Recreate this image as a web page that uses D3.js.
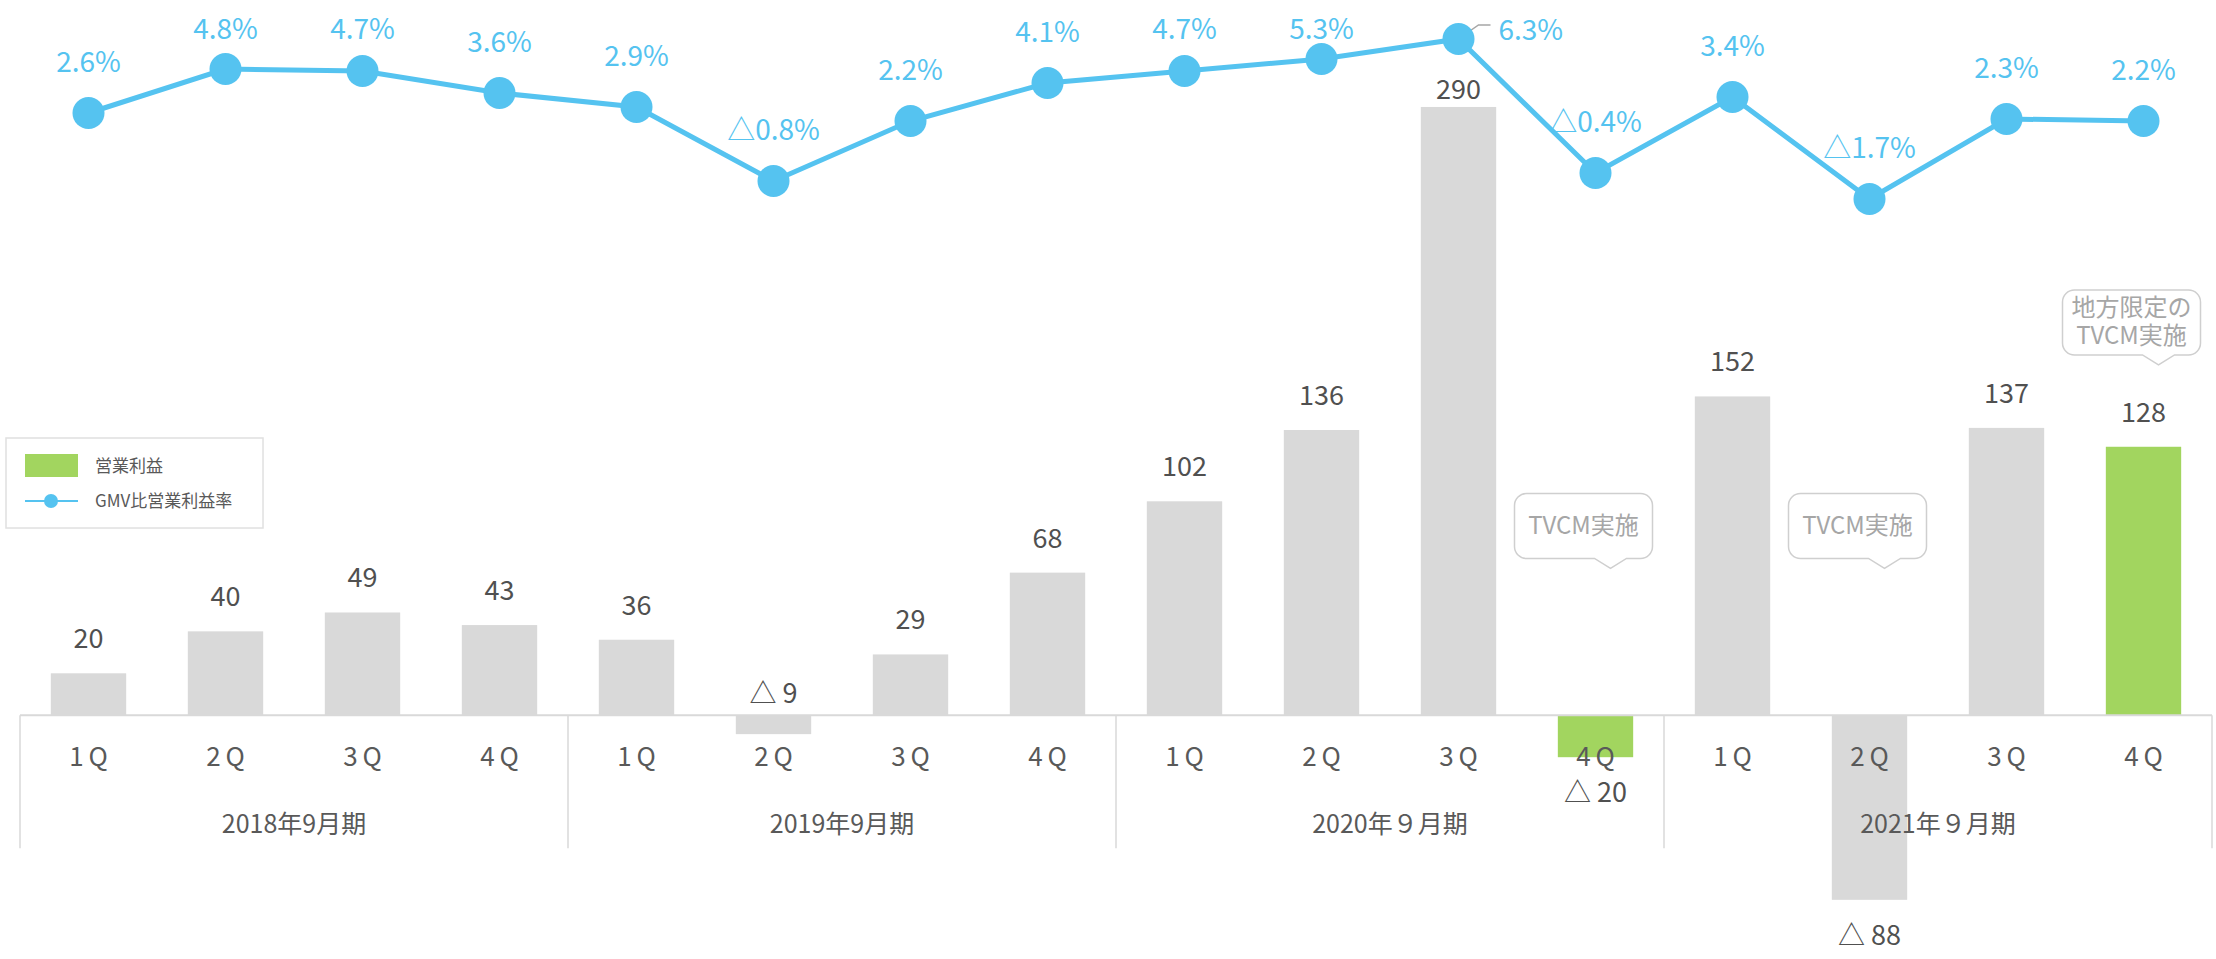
<!DOCTYPE html>
<html>
<head>
<meta charset="utf-8">
<script src="https://cdn.jsdelivr.net/npm/d3@7"></script>
<style>
  body { margin: 0; background: #fff; }
  svg { display: block; font-family: "Noto Sans CJK JP", "Noto Sans", sans-serif; }
</style>
</head>
<body>
<div id="chart"></div>
<script>
// 営業利益 (bars) and GMV比営業利益率 (line), by quarter

const years = ["2018年9月期", "2019年9月期", "2020年９月期", "2021年９月期"];
const quarters = ["1Q", "2Q", "3Q", "4Q"];
const profit = [20, 40, 49, 43, 36, -9, 29, 68, 102, 136, 290, -20, 152, -88, 137, 128];
const margin = [2.6, 4.8, 4.7, 3.6, 2.9, -0.8, 2.2, 4.1, 4.7, 5.3, 6.3, -0.4, 3.4, -1.7, 2.3, 2.2];
const highlight = [11, 15]; // green bars
const calloutAt = [11, 13, 15];
const calloutText = [["TVCM実施"], ["TVCM実施"], ["地方限定の", "TVCM実施"]];
const legendLabels = ["営業利益", "GMV比営業利益率"];

const width = 2216,
  height = 959,
  blue = "#55C3F0",
  green = "#A2D55F",
  gray = "#D9D9D9",
  textGray = "#505050";

const keys = years.flatMap(y => quarters.map(q => y + "-" + q));

const x = d3.scaleBand().domain(keys).range([20, 2212]).paddingInner(0.45).paddingOuter(0.225);
const y = d3.scaleLinear().domain([-100, 300]).range([925, 86]);
const yr = d3.scaleLinear().domain([-2, 7]).range([205, 25]);
const cx = i => x(keys[i]) + x.bandwidth() / 2;

const svg = d3.select("#chart")
  .append("svg")
  .attr("width", width)
  .attr("height", height)
  .attr("viewBox", [0, 0, width, height]);

// bars
svg.append("g")
  .selectAll("rect")
  .data(profit)
  .join("rect")
  .attr("x", (d, i) => x(keys[i]))
  .attr("width", x.bandwidth())
  .attr("y", d => y(Math.max(0, d)))
  .attr("height", d => Math.abs(y(d) - y(0)))
  .attr("fill", (d, i) => highlight.includes(i) ? green : gray);

// axis: baseline + group dividers
const step = x.step(), pad = step * x.paddingInner() / 2;
svg.append("line")
  .attr("x1", 20).attr("x2", 2212)
  .attr("y1", y(0)).attr("y2", y(0))
  .attr("stroke", gray).attr("stroke-width", 2);

const dividers = years.map((yy, k) => x(keys[k * 4]) - pad).concat([x(keys[keys.length - 1]) + x.bandwidth() + pad]);
svg.append("g")
  .selectAll("line")
  .data(dividers)
  .join("line")
  .attr("x1", d => d).attr("x2", d => d)
  .attr("y1", y(0)).attr("y2", y(0) + 133)
  .attr("stroke", gray).attr("stroke-width", 1.5);

svg.append("g")
  .attr("font-size", 26)
  .attr("fill", "#595959")
  .attr("text-anchor", "middle")
  .attr("letter-spacing", 5)
  .selectAll("text")
  .data(keys)
  .join("text")
  .attr("x", (d, i) => cx(i) + 2.5)
  .attr("y", y(0) + 51)
  .text(d => d.split("-")[1]);

svg.append("g")
  .attr("font-size", 25)
  .attr("fill", "#595959")
  .attr("text-anchor", "middle")
  .selectAll("text")
  .data(years)
  .join("text")
  .attr("x", (d, k) => (dividers[k] + dividers[k + 1]) / 2)
  .attr("y", y(0) + 118)
  .text(d => d);

// bar value labels
const maxP = d3.max(profit);
svg.append("g")
  .attr("font-size", 27)
  .attr("fill", textGray)
  .attr("text-anchor", "middle")
  .selectAll("text")
  .data(profit)
  .join("text")
  .attr("x", (d, i) => cx(i))
  .attr("y", d => {
    if (d === maxP) return y(d) - 8;      // squeezed under the line
    if (d >= 0) return y(d) - 25;
    if (d > -10) return y(0) - 12;         // small negative: above the axis
    return y(d) + 45;
  })
  .text(d => d < 0 ? "△ " + Math.abs(d) : d);

// callouts
calloutAt.forEach((i, k) => {
  const tipX = cx(i) + 15,
    tipY = k === 2 ? y(167) : y(70),
    bw = 138, bh = 65,
    bx = tipX - 27 - bw / 2,
    by = tipY - 10 - bh,
    r = 12;
  const p = d3.path();
  p.moveTo(bx + r, by);
  p.lineTo(bx + bw - r, by);
  p.arcTo(bx + bw, by, bx + bw, by + r, r);
  p.lineTo(bx + bw, by + bh - r);
  p.arcTo(bx + bw, by + bh, bx + bw - r, by + bh, r);
  p.lineTo(tipX + 16, by + bh);
  p.lineTo(tipX, tipY);
  p.lineTo(tipX - 16, by + bh);
  p.lineTo(bx + r, by + bh);
  p.arcTo(bx, by + bh, bx, by + bh - r, r);
  p.lineTo(bx, by + r);
  p.arcTo(bx, by, bx + r, by, r);
  p.closePath();
  const g = svg.append("g");
  g.append("path")
    .attr("d", p.toString())
    .attr("fill", "#fff")
    .attr("stroke", "#CFCFCF")
    .attr("stroke-width", 1.5);
  const lines = calloutText[k];
  g.selectAll("text")
    .data(lines)
    .join("text")
    .attr("x", bx + bw / 2)
    .attr("y", (d, j) => by + bh / 2 + 8 + (j - (lines.length - 1) / 2) * 28)
    .attr("text-anchor", "middle")
    .attr("font-size", 24)
    .attr("fill", "#A6A6A6")
    .text(d => d);
});

// margin line
const line = d3.line().x((d, i) => cx(i)).y(d => yr(d));
svg.append("path")
  .datum(margin)
  .attr("d", line)
  .attr("fill", "none")
  .attr("stroke", blue)
  .attr("stroke-width", 5);

const maxM = d3.max(margin), maxI = margin.indexOf(maxM);
svg.append("path")
  .attr("d", `M${cx(maxI)},${yr(maxM)} L${cx(maxI) + 20},${yr(maxM) - 14} L${cx(maxI) + 32},${yr(maxM) - 14}`)
  .attr("fill", "none")
  .attr("stroke", "#A6A6A6")
  .attr("stroke-width", 1.5);

svg.append("g")
  .selectAll("circle")
  .data(margin)
  .join("circle")
  .attr("cx", (d, i) => cx(i))
  .attr("cy", d => yr(d))
  .attr("r", 16)
  .attr("fill", blue);

const fmt = d => (d < 0 ? "△" + Math.abs(d).toFixed(1) : d.toFixed(1)) + "%";
svg.append("g")
  .attr("font-size", 28)
  .attr("fill", blue)
  .selectAll("text")
  .data(margin)
  .join("text")
  .attr("text-anchor", (d, i) => i === maxI ? "start" : "middle")
  .attr("x", (d, i) => i === maxI ? cx(i) + 40 : cx(i))
  .attr("y", (d, i) => i === maxI ? yr(d) + 1 : Math.max(yr(d) - 41, 39))
  .text(fmt);

// legend
const lg = svg.append("g").attr("transform", "translate(6,438)");
lg.append("rect")
  .attr("width", 257).attr("height", 90)
  .attr("fill", "#fff")
  .attr("stroke", "#E0E0E0").attr("stroke-width", 1.5);
lg.append("rect")
  .attr("x", 19).attr("y", 16).attr("width", 53).attr("height", 23)
  .attr("fill", green);
lg.append("line")
  .attr("x1", 19).attr("x2", 72).attr("y1", 63).attr("y2", 63)
  .attr("stroke", blue).attr("stroke-width", 2);
lg.append("circle")
  .attr("cx", 45).attr("cy", 63).attr("r", 7)
  .attr("fill", blue);
lg.selectAll("text.lbl")
  .data(legendLabels)
  .join("text")
  .attr("class", "lbl")
  .attr("x", 89)
  .attr("y", (d, i) => 34 + i * 35)
  .attr("font-size", 17)
  .attr("fill", "#595959")
  .text(d => d);
</script>
</body>
</html>
